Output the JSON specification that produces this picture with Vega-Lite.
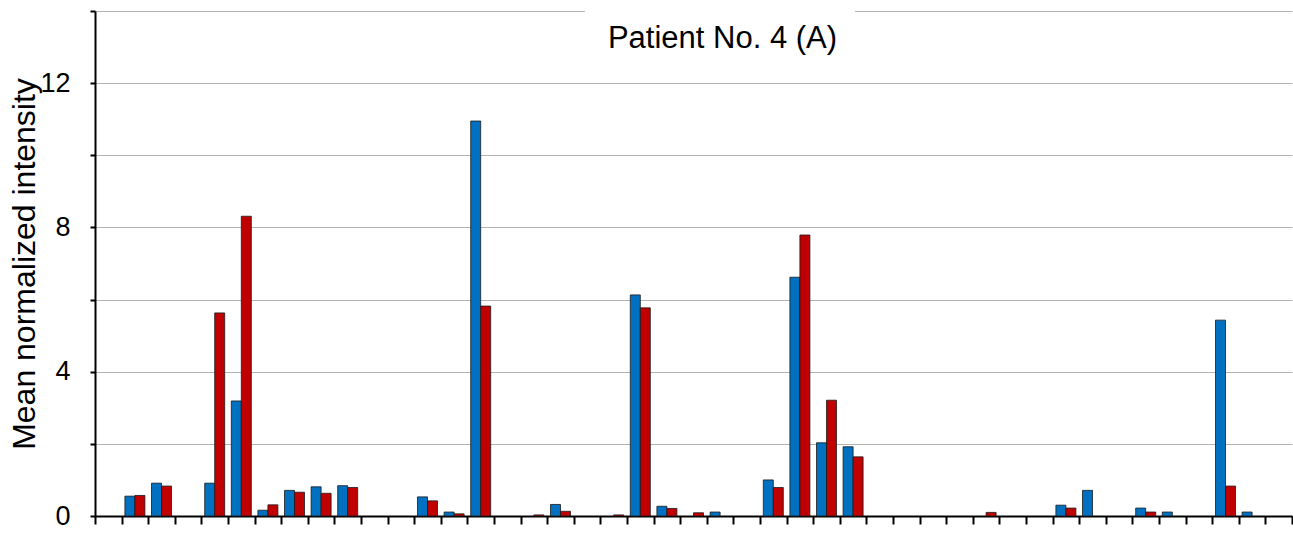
{
  "$schema": "https://vega.github.io/schema/vega-lite/v6.json",
  "width": 1197,
  "height": 505,
  "autosize": {"type": "none"},
  "padding": {"left": 95, "top": 11, "right": 1, "bottom": 17},
  "background": "white",
  "config": {
    "view": {"stroke": null},
    "font": "Liberation Sans",
    "axis": {"labelFont": "Liberation Sans", "titleFont": "Liberation Sans"}
  },
  "layer": [
    {
      "data": {
        "values": [
          {"group": 2, "series": "A", "value": 0.55}, {"group": 2, "series": "B", "value": 0.57},
          {"group": 3, "series": "A", "value": 0.91}, {"group": 3, "series": "B", "value": 0.83},
          {"group": 5, "series": "A", "value": 0.91}, {"group": 5, "series": "B", "value": 5.63},
          {"group": 6, "series": "A", "value": 3.19}, {"group": 6, "series": "B", "value": 8.31},
          {"group": 7, "series": "A", "value": 0.16}, {"group": 7, "series": "B", "value": 0.31},
          {"group": 8, "series": "A", "value": 0.71}, {"group": 8, "series": "B", "value": 0.66},
          {"group": 9, "series": "A", "value": 0.81}, {"group": 9, "series": "B", "value": 0.63},
          {"group": 10, "series": "A", "value": 0.84}, {"group": 10, "series": "B", "value": 0.79},
          {"group": 13, "series": "A", "value": 0.53}, {"group": 13, "series": "B", "value": 0.42},
          {"group": 14, "series": "A", "value": 0.11}, {"group": 14, "series": "B", "value": 0.06},
          {"group": 15, "series": "A", "value": 10.95}, {"group": 15, "series": "B", "value": 5.82},
          {"group": 17, "series": "B", "value": 0.03},
          {"group": 18, "series": "A", "value": 0.32}, {"group": 18, "series": "B", "value": 0.13},
          {"group": 20, "series": "B", "value": 0.03},
          {"group": 21, "series": "A", "value": 6.13}, {"group": 21, "series": "B", "value": 5.77},
          {"group": 22, "series": "A", "value": 0.27}, {"group": 22, "series": "B", "value": 0.21},
          {"group": 23, "series": "B", "value": 0.09},
          {"group": 24, "series": "A", "value": 0.11},
          {"group": 26, "series": "A", "value": 1.0}, {"group": 26, "series": "B", "value": 0.79},
          {"group": 27, "series": "A", "value": 6.62}, {"group": 27, "series": "B", "value": 7.79},
          {"group": 28, "series": "A", "value": 2.03}, {"group": 28, "series": "B", "value": 3.21},
          {"group": 29, "series": "A", "value": 1.92}, {"group": 29, "series": "B", "value": 1.64},
          {"group": 34, "series": "B", "value": 0.1},
          {"group": 37, "series": "A", "value": 0.30}, {"group": 37, "series": "B", "value": 0.22},
          {"group": 38, "series": "A", "value": 0.71},
          {"group": 40, "series": "A", "value": 0.22}, {"group": 40, "series": "B", "value": 0.11},
          {"group": 41, "series": "A", "value": 0.11},
          {"group": 43, "series": "A", "value": 5.43}, {"group": 43, "series": "B", "value": 0.83},
          {"group": 44, "series": "A", "value": 0.11}
        ]
      },
      "mark": {"type": "bar", "stroke": "#1a1a1a", "strokeWidth": 0.8},
      "encoding": {
        "x": {
          "field": "group",
          "type": "ordinal",
          "scale": {
            "domain": [1,2,3,4,5,6,7,8,9,10,11,12,13,14,15,16,17,18,19,20,21,22,23,24,25,26,27,28,29,30,31,32,33,34,35,36,37,38,39,40,41,42,43,44,45],
            "paddingInner": 0,
            "paddingOuter": 0
          },
          "axis": {
            "labels": false,
            "title": null,
            "grid": false,
            "domain": true,
            "domainColor": "#000000",
            "domainWidth": 2,
            "ticks": true,
            "tickColor": "#000000",
            "tickWidth": 2,
            "tickSize": 8,
            "tickBand": "extent"
          }
        },
        "xOffset": {
          "field": "series",
          "type": "nominal",
          "scale": {"domain": ["A", "B"], "paddingInner": 0, "paddingOuter": 0.33}
        },
        "y": {
          "field": "value",
          "type": "quantitative",
          "scale": {"domain": [0, 14], "nice": false, "zero": true},
          "axis": {
            "title": "Mean normalized intensity",
            "titleFontSize": 32,
            "titleFontWeight": "normal",
            "titleColor": "#000000",
            "titleX": -54,
            "titleY": 252.5,
            "values": [0, 2, 4, 6, 8, 10, 12, 14],
            "labelExpr": "datum.value % 4 === 0 ? datum.label : ''",
            "labelFontSize": 27,
            "labelColor": "#000000",
            "labelPadding": 20,
            "domain": true,
            "domainColor": "#000000",
            "domainWidth": 2,
            "ticks": true,
            "tickColor": "#000000",
            "tickWidth": 2,
            "tickSize": 5,
            "grid": true,
            "gridColor": "#b3b3b3",
            "gridWidth": 1
          }
        },
        "color": {
          "field": "series",
          "type": "nominal",
          "scale": {"domain": ["A", "B"], "range": ["#0070C0", "#C00000"]},
          "legend": null
        }
      }
    },
    {
      "data": {"values": [{"label": "Patient No. 4 (A)"}]},
      "mark": {"type": "rect", "fill": "white", "stroke": null},
      "encoding": {
        "x": {"datum": 19, "type": "ordinal", "bandPosition": 0.42},
        "x2": {"datum": 29, "bandPosition": 0.57},
        "y": {"datum": 12.8, "type": "quantitative"},
        "y2": {"datum": 14.25}
      }
    },
    {
      "data": {"values": [{"label": "Patient No. 4 (A)"}]},
      "mark": {"type": "text", "font": "Liberation Sans", "fontSize": 31, "color": "#000000", "align": "center", "baseline": "alphabetic"},
      "encoding": {
        "x": {"datum": 24, "type": "ordinal", "bandPosition": 0.59},
        "y": {"datum": 12.97, "type": "quantitative"},
        "text": {"field": "label"}
      }
    }
  ]
}
